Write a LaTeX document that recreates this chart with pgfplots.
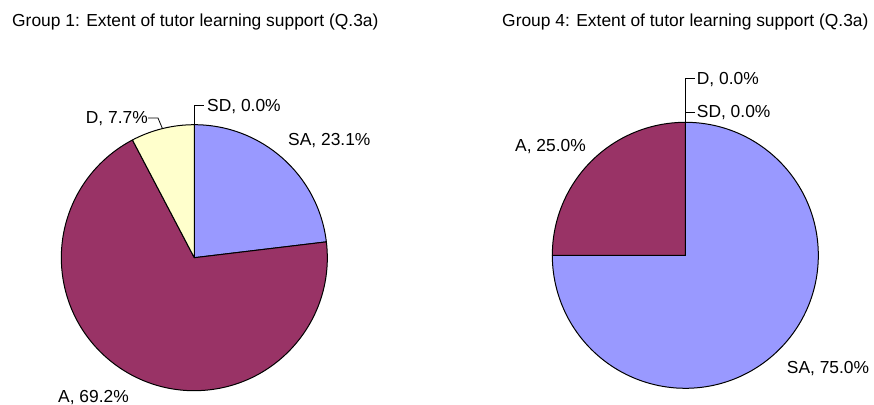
\documentclass[border=0pt]{standalone}
\usepackage{pgfplots}
\pgfplotsset{compat=1.18}
\usepackage{pgfplotstable}
\usepackage{fontspec}
\setmainfont{Liberation Sans}
\definecolor{cSA}{RGB}{153,153,255}
\definecolor{cA}{RGB}{153,51,102}
\definecolor{cD}{RGB}{255,255,204}
\definecolor{cSD}{RGB}{204,255,255}
\newcommand\lbl{\fontsize{17.4bp}{20bp}\selectfont}

\pgfplotstableread{
label value
SA 23.1
A 69.2
D 7.7
SD 0.0
}\groupone
\pgfplotstableread{
label value
SA 75.0
A 25.0
D 0.0
SD 0.0
}\groupfour

\newcommand\slice[3]{%
  \fill[#3,draw=black,line width=1bp,line join=round]
    (axis cs:0,0) -- ++(#1:133bp) arc[start angle=#1,end angle=#2,radius=133bp] -- cycle;}

\begin{document}
\begin{tikzpicture}
\useasboundingbox (0,0) rectangle (874bp,405bp);
% group 1 angles (clockwise from 12 o'clock)
\pgfplotstablegetelem{0}{value}\of\groupone \let\oSA\pgfplotsretval
\pgfplotstablegetelem{1}{value}\of\groupone \let\oA\pgfplotsretval
\pgfplotstablegetelem{2}{value}\of\groupone \let\oD\pgfplotsretval
\pgfplotstablegetelem{3}{value}\of\groupone \let\oSD\pgfplotsretval
\pgfmathsetmacro\oa{90}
\pgfmathsetmacro\ob{\oa-3.6*\oSA}
\pgfmathsetmacro\oc{\ob-3.6*\oA}
\pgfmathsetmacro\od{\oc-3.6*\oD}
\pgfmathsetmacro\oe{\od-3.6*\oSD}
\pgfmathsetmacro\odm{(\oc+\od)/2}
% group 4 angles
\pgfplotstablegetelem{0}{value}\of\groupfour \let\fSA\pgfplotsretval
\pgfplotstablegetelem{1}{value}\of\groupfour \let\fA\pgfplotsretval
\pgfplotstablegetelem{2}{value}\of\groupfour \let\fD\pgfplotsretval
\pgfplotstablegetelem{3}{value}\of\groupfour \let\fSD\pgfplotsretval
\pgfmathsetmacro\fa{90}
\pgfmathsetmacro\fb{\fa-3.6*\fSA}
\pgfmathsetmacro\fc{\fb-3.6*\fA}
\pgfmathsetmacro\fd{\fc-3.6*\fD}
\pgfmathsetmacro\fe{\fd-3.6*\fSD}

\begin{axis}[at={(0,0)}, anchor=south west, hide axis, clip=false,
  x=133bp, y=133bp, xmin=-1.461, xmax=1.825, ymin=-1.1075, ymax=1.9376]
  \slice{\oa}{\ob}{cSA}
  \slice{\ob}{\oc}{cA}
  \slice{\oc}{\od}{cD}
  \slice{\od}{\oe}{cSD}
  \draw[line width=0.8bp] (axis cs:0,0) ++(\odm:133bp) -- (axis cs:-0.273,1.050) -- (axis cs:-0.348,1.050);
  \draw[line width=0.8bp] (axis cs:0,1) -- (axis cs:0,1.148) -- (axis cs:0.073,1.148);
  \node[anchor=base west, inner sep=0pt, font=\lbl] at (axis cs:-1.3707,1.738) {Group 1: Extent of tutor learning support (Q.3a)};
  \node[anchor=base west, inner sep=0pt, font=\lbl] at (axis cs:0.7045,0.840) {SA, 23.1\%};
  \node[anchor=base west, inner sep=0pt, font=\lbl] at (axis cs:-1.025,-1.085) {A, 69.2\%};
  \node[anchor=base west, inner sep=0pt, font=\lbl] at (axis cs:-0.8165,1.0105) {D, 7.7\%};
  \node[anchor=base west, inner sep=0pt, font=\lbl] at (axis cs:0.0955,1.098) {SD, 0.0\%};
\end{axis}

\begin{axis}[at={(437bp,0)}, anchor=south west, hide axis, clip=false,
  x=133bp, y=133bp, xmin=-1.867, xmax=1.419, ymin=-1.1256, ymax=1.9195]
  \slice{\fa}{\fb}{cSA}
  \slice{\fb}{\fc}{cA}
  \slice{\fc}{\fd}{cD}
  \slice{\fd}{\fe}{cSD}
  \draw[line width=0.8bp] (axis cs:0,1) -- (axis cs:0,1.331) -- (axis cs:0.073,1.331);
  \draw[line width=0.8bp] (axis cs:0,1.075) -- (axis cs:0.073,1.075);
  \node[anchor=base west, inner sep=0pt, font=\lbl] at (axis cs:-1.378,1.720) {Group 4: Extent of tutor learning support (Q.3a)};
  \node[anchor=base west, inner sep=0pt, font=\lbl] at (axis cs:0.0857,1.2805) {D, 0.0\%};
  \node[anchor=base west, inner sep=0pt, font=\lbl] at (axis cs:0.0857,1.0376) {SD, 0.0\%};
  \node[anchor=base west, inner sep=0pt, font=\lbl] at (axis cs:-1.2805,0.779) {A, 25.0\%};
  \node[anchor=base west, inner sep=0pt, font=\lbl] at (axis cs:0.7624,-0.887) {SA, 75.0\%};
\end{axis}
\end{tikzpicture}
\end{document}
